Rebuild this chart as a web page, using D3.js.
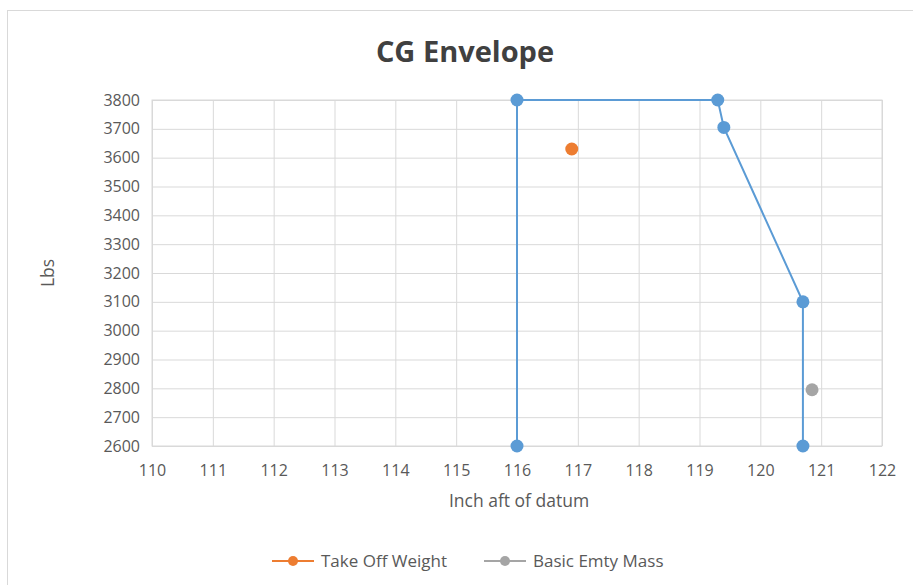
<!DOCTYPE html>
<html>
<head>
<meta charset="utf-8">
<script src="https://cdn.jsdelivr.net/npm/d3@7"></script>
<style>
  body { margin: 0; background: #fff; }
  svg text { font-family: "Open Sans", "Noto Sans", sans-serif; fill: #595959; }
</style>
</head>
<body>
<svg id="chart"></svg>
<script>
// envelope (unlabelled series)
const envelopeX = [116, 116, 119.3, 119.4, 120.7, 120.7];
const envelopeY = [2600, 3800, 3800, 3705, 3100, 2600];
// single points
const takeOffX = [116.9];
const takeOffY = [3630];
const emptyX = [120.85];
const emptyY = [2795];

const xTicks = d3.range(110, 123, 1);
const yTicks = d3.range(2600, 3900, 100);

const width = 913, height = 585;
const margin = {top: 100, right: 31, bottom: 139, left: 152};
const w = width - margin.left - margin.right;
const h = height - margin.top - margin.bottom;

const svg = d3.select('#chart').attr('width', width).attr('height', height);

// outer chart frame
svg.append('rect')
    .attr('x', 7.5).attr('y', 10.5)
    .attr('width', width).attr('height', height)
    .attr('fill', 'none').attr('stroke', '#d9d9d9');

const chart = svg.append('g').attr('transform', `translate(${margin.left},${margin.top})`);

const x = d3.scaleLinear().domain([110, 122]).range([0, w]);
const y = d3.scaleLinear().domain([2600, 3800]).range([h, 0]);

// gridlines
chart.append('g')
    .attr('transform', `translate(0,${h})`)
    .call(d3.axisBottom(x).tickValues(xTicks).tickSize(-h).tickPadding(19).tickFormat(d3.format('d')))
    .call(g => g.select('.domain').remove())
    .call(g => g.selectAll('line').attr('stroke', '#d9d9d9'))
    .call(g => g.selectAll('text').attr('font-size', 16));

chart.append('g')
    .call(d3.axisLeft(y).tickValues(yTicks).tickSize(-w).tickPadding(12).tickFormat(d3.format('d')))
    .call(g => g.select('.domain').remove())
    .call(g => g.selectAll('line').attr('stroke', '#d9d9d9'))
    .call(g => g.selectAll('text').attr('font-size', 16));

// plot border
chart.append('rect').attr('width', w).attr('height', h)
    .attr('fill', 'none').attr('stroke', '#d9d9d9');

// envelope line
const env = envelopeX.map((d, i) => [d, envelopeY[i]]);
chart.append('path')
    .datum(env)
    .attr('fill', 'none')
    .attr('stroke', '#5b9bd5')
    .attr('stroke-width', 2)
    .attr('d', d3.line().x(d => x(d[0])).y(d => y(d[1])));

chart.selectAll('.env-pt')
    .data(env)
  .join('circle')
    .attr('class', 'env-pt')
    .attr('cx', d => x(d[0])).attr('cy', d => y(d[1]))
    .attr('r', 6.5).attr('fill', '#5b9bd5');

chart.selectAll('.tow-pt')
    .data(takeOffX.map((d, i) => [d, takeOffY[i]]))
  .join('circle')
    .attr('class', 'tow-pt')
    .attr('cx', d => x(d[0])).attr('cy', d => y(d[1]))
    .attr('r', 6.5).attr('fill', '#ed7d31');

chart.selectAll('.bem-pt')
    .data(emptyX.map((d, i) => [d, emptyY[i]]))
  .join('circle')
    .attr('class', 'bem-pt')
    .attr('cx', d => x(d[0])).attr('cy', d => y(d[1]))
    .attr('r', 6.5).attr('fill', '#a5a5a5');

// titles
svg.append('text')
    .attr('x', 465).attr('y', 62)
    .attr('text-anchor', 'middle')
    .attr('font-size', 29).attr('font-weight', 'bold')
    .style('fill', '#404040')
    .text('CG Envelope');

svg.append('text')
    .attr('x', 519).attr('y', 507)
    .attr('text-anchor', 'middle')
    .attr('font-size', 17.5)
    .text('Inch aft of datum');

svg.append('text')
    .attr('transform', 'translate(54,273) rotate(-90)')
    .attr('text-anchor', 'middle')
    .attr('font-size', 17.5)
    .text('Lbs');

// legend
const legend = [
  {name: 'Take Off Weight', color: '#ed7d31', x: 272},
  {name: 'Basic Emty Mass', color: '#a5a5a5', x: 484}
];
const lg = svg.selectAll('.legend').data(legend).join('g')
    .attr('class', 'legend')
    .attr('transform', d => `translate(${d.x},561)`);
lg.append('line').attr('x1', 0).attr('x2', 42)
    .attr('stroke', d => d.color).attr('stroke-width', 2);
lg.append('circle').attr('cx', 21).attr('r', 5).attr('fill', d => d.color);
lg.append('text').attr('x', 49).attr('dy', '0.35em')
    .attr('font-size', 17).text(d => d.name);
</script>
</body>
</html>
